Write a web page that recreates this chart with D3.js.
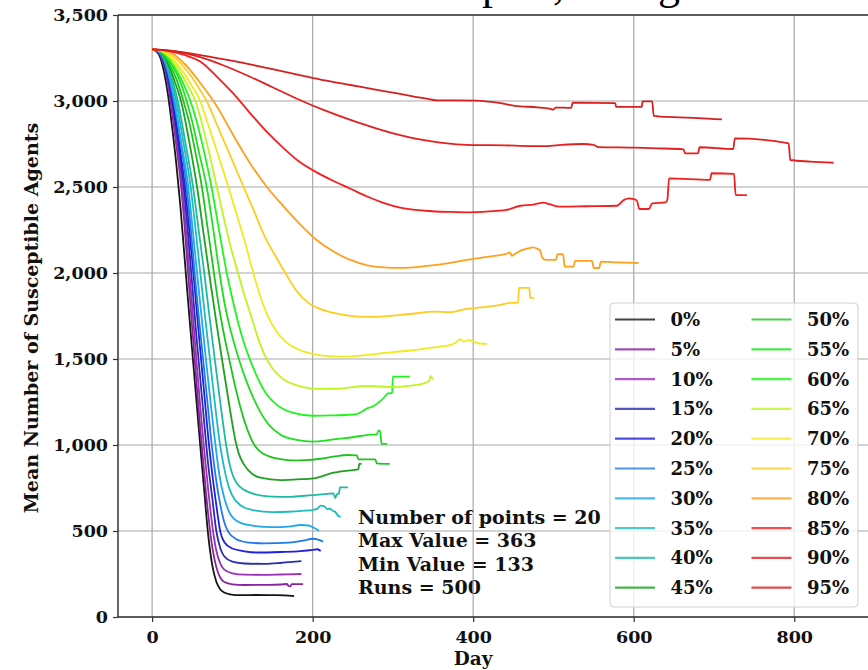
<!DOCTYPE html>
<html>
<head>
<meta charset="utf-8">
<script src="https://cdn.jsdelivr.net/npm/d3@7"></script>
<style>
  html, body { margin: 0; padding: 0; background: #fff; }
  svg { display: block; }
</style>
</head>
<body>
<svg id="chart" width="868" height="670"></svg>
<script>
// Mean susceptible agents per day, one curve per percentage group.
// Each series is a list of [day, mean susceptible count].
const pct00 = [[0,3300],[5,3290],[10,3255],[15,3165],[20,3030],[25,2845],[30,2640],[35,2400],[40,2115],[45,1825],[50,1545],[55,1270],[60,995],[65,730],[70,470],[75,300],[80,205],[85,160],[90,142],[97,132],[110,127],[130,128],[150,127],[165,126],[177,121]];
const pct05 = [[0,3300],[5,3292],[10,3265],[15,3205],[20,3090],[25,2930],[30,2750],[35,2555],[40,2300],[45,1990],[50,1680],[55,1380],[60,1095],[65,830],[70,590],[75,405],[80,290],[85,228],[90,203],[100,190],[115,186],[140,187],[160,189],[168,192],[170,180],[172,178],[174,191],[188,191]];
const pct10 = [[0,3300],[5,3293],[10,3270],[15,3212],[20,3105],[25,2955],[30,2785],[35,2610],[40,2370],[45,2090],[50,1800],[55,1505],[60,1220],[65,965],[70,735],[75,530],[80,385],[85,310],[90,275],[100,254],[115,246],[140,245],[160,247],[186,250]];
const pct15 = [[0,3300],[5,3294],[10,3273],[15,3220],[20,3125],[25,2995],[30,2840],[35,2670],[40,2470],[45,2215],[50,1930],[55,1645],[60,1385],[65,1125],[70,880],[75,690],[80,500],[85,400],[90,352],[100,322],[115,311],[140,309],[160,314],[175,320],[186,325]];
const pct20 = [[0,3300],[5,3295],[10,3276],[15,3228],[20,3140],[26,3000],[30,2880],[35,2715],[41,2500],[45,2320],[50,2070],[55,1810],[60,1550],[65,1295],[70,1040],[75,830],[80,650],[85,495],[90,435],[100,398],[115,382],[130,375],[160,378],[185,383],[200,390],[206,394],[210,384]];
const pct25 = [[0,3300],[5,3296],[10,3280],[15,3235],[20,3160],[27,3000],[35,2780],[43,2500],[48,2270],[53,2000],[58,1750],[63.5,1500],[69,1245],[74.3,1000],[80,790],[85,650],[90,550],[95,495],[105,452],[120,433],[140,428],[170,432],[190,445],[200,455],[207,450],[213,438]];
const pct30 = [[0,3300],[5,3296],[10,3281],[15,3240],[20,3170],[28,3000],[36,2770],[45,2500],[50,2280],[56,2000],[61.5,1750],[67,1500],[73,1240],[78.9,1000],[84,820],[90,690],[95,620],[105,560],[120,535],[150,522],[170,526],[185,535],[195,532],[200,522],[205,510],[208,500]];
const pct35 = [[0,3300],[5,3297],[10,3284],[15,3247],[20,3185],[25,3100],[30,3000],[39,2760],[48,2500],[54,2260],[60,2000],[66,1745],[72,1500],[78,1250],[84.7,1000],[90,860],[95,765],[100,705],[110,650],[125,622],[150,610],[170,612],[190,618],[200,622],[206,630],[210,647],[214,645],[218,628],[222,630],[224,620],[228,612],[230,598],[233,585],[235,583]];
const pct40 = [[0,3300],[5,3297],[10,3286],[20,3198],[26,3110],[32,3000],[41,2770],[51,2500],[58,2250],[65,2000],[71.5,1745],[78,1500],[85,1245],[92.2,1000],[96,900],[100,830],[106,775],[115,738],[130,712],[150,700],[170,698],[190,705],[205,710],[218,716],[226,719],[228,692],[230,712],[233,720],[234,754],[244,754]];
const pct45 = [[0,3300],[5,3298],[10,3289],[20,3215],[28,3115],[36,3000],[46,2770],[56,2500],[63.5,2250],[71,2000],[79,1745],[87,1500],[95.5,1250],[101,1095],[104,1020],[108,950],[114,890],[120,852],[135,810],[160,796],[180,800],[201,806],[226,839],[247,853],[257,858],[258,890],[261,890]];
const pct50 = [[0,3300],[5,3298],[10,3290],[20,3228],[30,3130],[39,3000],[46,2880],[54,2700],[62,2500],[69.5,2250],[77,2000],[82,1840],[88,1680],[96,1500],[103,1350],[110,1220],[116,1125],[122,1050],[128,995],[135,960],[145,935],[160,918],[175,911],[190,912],[210,920],[226,932],[243,942],[255,940],[257,916],[278,916],[280,893],[296,890]];
const pct55 = [[0,3300],[5,3298],[10,3291],[20,3245],[30,3165],[36,3100],[43,3000],[50,2880],[58,2710],[68,2500],[76,2260],[84,2000],[90,1830],[96,1700],[102,1595],[108,1500],[116,1390],[125,1285],[135,1190],[145,1120],[160,1060],[180,1030],[200,1020],[215,1025],[226,1033],[250,1045],[267,1058],[280,1062],[282,1085],[284,1080],[286,1006],[293,1006]];
const pct60 = [[0,3300],[10,3292],[20,3250],[30,3180],[40,3090],[47,3010],[55,2890],[64,2720],[74,2500],[83,2260],[93,2000],[100,1850],[107,1715],[114,1600],[122,1495],[132,1385],[142,1300],[155,1235],[175,1188],[200,1170],[225,1172],[245,1176],[255,1180],[268,1213],[276,1227],[288,1271],[294,1300],[299,1302],[300,1397],[321,1397]];
const pct65 = [[0,3300],[10,3293],[20,3262],[30,3205],[40,3130],[47,3068],[54,3000],[62,2870],[71,2700],[80.6,2500],[90,2305],[98,2150],[107,2000],[115,1870],[124,1740],[132,1620],[141,1515],[150,1445],[160,1395],[175,1355],[190,1335],[205,1326],[230,1327],[268,1343],[301,1337],[330,1349],[345,1372],[347,1400],[350,1380]];
const pct70 = [[0,3300],[10,3294],[20,3268],[30,3222],[40,3160],[50,3085],[60,3000],[70,2860],[82,2690],[95,2500],[105,2345],[115,2190],[126,2000],[135,1860],[145,1740],[155,1660],[165,1605],[180,1560],[200,1530],[220,1517],[240,1514],[260,1520],[280,1530],[300,1540],[320,1548],[340,1560],[360,1573],[371,1581],[378,1595],[384,1616],[388,1602],[395,1610],[402,1598],[408,1590],[417,1588]];
const pct75 = [[0,3300],[10,3296],[20,3278],[30,3245],[40,3195],[50,3135],[59,3070],[68,3000],[80,2870],[92,2740],[103,2620],[114,2500],[127,2360],[140,2215],[153,2105],[166,2000],[180,1895],[195,1825],[210,1790],[226,1768],[245,1752],[268,1745],[290,1748],[309,1756],[330,1766],[350,1775],[370,1772],[390,1790],[410,1800],[430,1812],[446,1826],[456,1828],[457,1913],[470,1913],[471,1855],[476,1855]];
const pct80 = [[0,3300],[20,3288],[40,3218],[60,3105],[81,2967],[100,2810],[122,2638],[143,2500],[164,2386],[185,2280],[205,2192],[226,2125],[247,2076],[268,2045],[288,2033],[309,2030],[340,2040],[370,2058],[392,2076],[420,2095],[440,2110],[446,2118],[448,2100],[451,2108],[459,2130],[470,2145],[475,2149],[480,2140],[483,2134],[486,2090],[490,2076],[503,2076],[505,2109],[512,2109],[514,2037],[525,2037],[527,2070],[548,2070],[550,2029],[557,2029],[559,2066],[580,2062],[606,2058]];
const pct85 = [[0,3300],[20,3292],[40,3268],[60,3229],[80,3145],[101,3044],[122,2930],[143,2820],[164,2725],[184,2645],[205,2585],[226,2535],[247,2490],[268,2445],[290,2405],[309,2380],[340,2362],[370,2355],[392,2353],[420,2358],[440,2365],[459,2391],[475,2398],[488,2409],[495,2400],[508,2386],[540,2388],[579,2391],[588,2425],[594,2434],[600,2430],[604,2420],[607,2372],[619,2372],[623,2405],[640,2410],[642,2428],[644,2550],[695,2541],[697,2580],[725,2576],[727,2453],[741,2453]];
const pct90 = [[0,3300],[20,3294],[40,3278],[60,3255],[90,3205],[122,3141],[150,3080],[184,3006],[215,2945],[247,2890],[280,2840],[309,2802],[335,2775],[359,2758],[399,2744],[440,2742],[470,2738],[492,2738],[510,2745],[537,2750],[550,2745],[556,2732],[599,2729],[630,2725],[662,2719],[664,2695],[680,2695],[682,2731],[724,2721],[726,2783],[793,2754],[795,2657],[820,2648],[849,2641]];
const pct95 = [[0,3300],[30,3288],[60,3267],[90,3242],[122,3213],[150,3185],[184,3151],[215,3120],[247,3093],[280,3065],[309,3041],[340,3015],[355,3004],[380,3004],[404,3002],[430,2990],[452,2972],[480,2963],[495,2955],[500,2950],[503,2962],[522,2960],[524,2990],[577,2988],[578,2966],[610,2966],[611,2998],[623,2998],[625,2914],[650,2906],[680,2901],[710,2893]];

const groupLabels = ['0%','5%','10%','15%','20%','25%','30%','35%','40%','45%','50%','55%','60%','65%','70%','75%','80%','85%','90%','95%'];
const groupSeries = [pct00,pct05,pct10,pct15,pct20,pct25,pct30,pct35,pct40,pct45,pct50,pct55,pct60,pct65,pct70,pct75,pct80,pct85,pct90,pct95];
const groupColors = ['#151515','#86259e','#9b2fb8','#2b2bb0','#2020e0','#1f7ae6','#1fa8ec','#1fbcbc','#1fbaa0','#1fa01f',
                     '#1fc51f','#1fe01f','#1ff51f','#bff51f','#f0ea1f','#ffcc1f','#ffa01f','#f51f1f','#e31f1f','#d42020'];

const xTicks = [0, 200, 400, 600, 800];
const yTicks = [0, 500, 1000, 1500, 2000, 2500, 3000, 3500];
const statLines = ['Number of points = 20', 'Max Value = 363', 'Min Value = 133', 'Runs = 500'];
const titleText = 'Vaccination Samples, Using Mean of 500 Runs';

const FONT = "'DejaVu Serif', serif";
const svg = d3.select('#chart');

const x = d3.scaleLinear().domain([-42.5, 892.5]).range([118, 868.5]);
const y = d3.scaleLinear().domain([0, 3500]).range([617, 15]);

// title sits above the top edge of the figure; only its descenders reach into view
const title = svg.append('text')
  .attr('x', 300).attr('y', -1.5)
  .attr('font-family', "'Liberation Serif', serif")
  .attr('font-size', 44)
  .attr('fill', '#000')
  .text(titleText);
{
  const node = title.node();
  const i = titleText.indexOf('p');
  const px = node.getStartPositionOfChar(i).x;
  title.attr('x', 300 + (482 - px));
}

// stats annotation
const stats = svg.append('g');
statLines.forEach((t, i) => {
  stats.append('text')
    .attr('x', 358).attr('y', 524 + i * 23.3)
    .attr('font-family', FONT).attr('font-weight', 'bold')
    .attr('font-size', 19).attr('fill', '#111')
    .text(t);
});

// grid
const grid = svg.append('g').attr('stroke', '#a8a8a8').attr('stroke-width', 1.2);
grid.selectAll('line.v').data(xTicks).join('line')
  .attr('x1', d => x(d)).attr('x2', d => x(d)).attr('y1', y(3500)).attr('y2', y(0));
grid.selectAll('line.h').data(yTicks).join('line')
  .attr('x1', 118).attr('x2', 868).attr('y1', d => y(d)).attr('y2', d => y(d));

// curves
const line = d3.line().x(d => x(d[0])).y(d => y(d[1])).curve(d3.curveMonotoneX);
svg.append('g').selectAll('path').data(groupSeries).join('path')
  .attr('d', d => line(d))
  .attr('fill', 'none')
  .attr('stroke', (d, i) => groupColors[i])
  .attr('stroke-width', 1.8)
  .attr('stroke-linejoin', 'round');

// axes
const xAxis = svg.append('g').attr('transform', `translate(0,${y(0)})`)
  .call(d3.axisBottom(x).tickValues(xTicks).tickSize(5).tickPadding(4).tickFormat(d3.format('d')));
const yAxis = svg.append('g').attr('transform', 'translate(118,0)')
  .call(d3.axisLeft(y).tickValues(yTicks).tickSize(5).tickPadding(5).tickFormat(d3.format(',')));
[xAxis, yAxis].forEach(a => {
  a.select('.domain').remove();
  a.selectAll('line').attr('stroke', '#333').attr('stroke-width', 1.2);
  a.selectAll('text').attr('font-family', FONT).attr('font-weight', 'bold')
    .attr('font-size', 17.5).attr('fill', '#111');
});
xAxis.selectAll('text').attr('dy', '0.95em');

// spines
svg.append('line').attr('x1', 118).attr('x2', 118).attr('y1', 15).attr('y2', 617)
  .attr('stroke', '#333').attr('stroke-width', 1.5);
svg.append('line').attr('x1', 118).attr('x2', 868).attr('y1', 617).attr('y2', 617)
  .attr('stroke', '#333').attr('stroke-width', 1.5);
svg.append('line').attr('x1', 118).attr('x2', 868).attr('y1', 15).attr('y2', 15)
  .attr('stroke', '#333').attr('stroke-width', 1.5);

// axis titles
svg.append('text')
  .attr('transform', 'translate(38,318) rotate(-90)')
  .attr('text-anchor', 'middle')
  .attr('font-family', FONT).attr('font-weight', 'bold').attr('font-size', 19).attr('fill', '#111')
  .text('Mean Number of Susceptible Agents');
svg.append('text')
  .attr('x', x(400)).attr('y', 665)
  .attr('text-anchor', 'middle')
  .attr('font-family', FONT).attr('font-weight', 'bold').attr('font-size', 18.5).attr('fill', '#111')
  .text('Day');

// legend, two columns of ten
const legend = svg.append('g');
legend.append('rect')
  .attr('x', 610).attr('y', 303).attr('width', 248).attr('height', 304)
  .attr('rx', 4).attr('fill', '#fff').attr('fill-opacity', 0.8)
  .attr('stroke', '#d0d0d0').attr('stroke-width', 1);
groupLabels.forEach((lab, i) => {
  const col = Math.floor(i / 10), row = i % 10;
  const cy = 319.5 + row * 29.8;
  const lx = col === 0 ? 615 : 751.5;
  legend.append('line')
    .attr('x1', lx).attr('x2', lx + 40).attr('y1', cy).attr('y2', cy)
    .attr('stroke', groupColors[i]).attr('stroke-width', 2.2).attr('stroke-opacity', 0.8);
  legend.append('text')
    .attr('x', col === 0 ? 670.5 : 807).attr('y', cy + 6.5)
    .attr('font-family', FONT).attr('font-weight', 'bold').attr('font-size', 18).attr('fill', '#111')
    .text(lab);
});
</script>
</body>
</html>
